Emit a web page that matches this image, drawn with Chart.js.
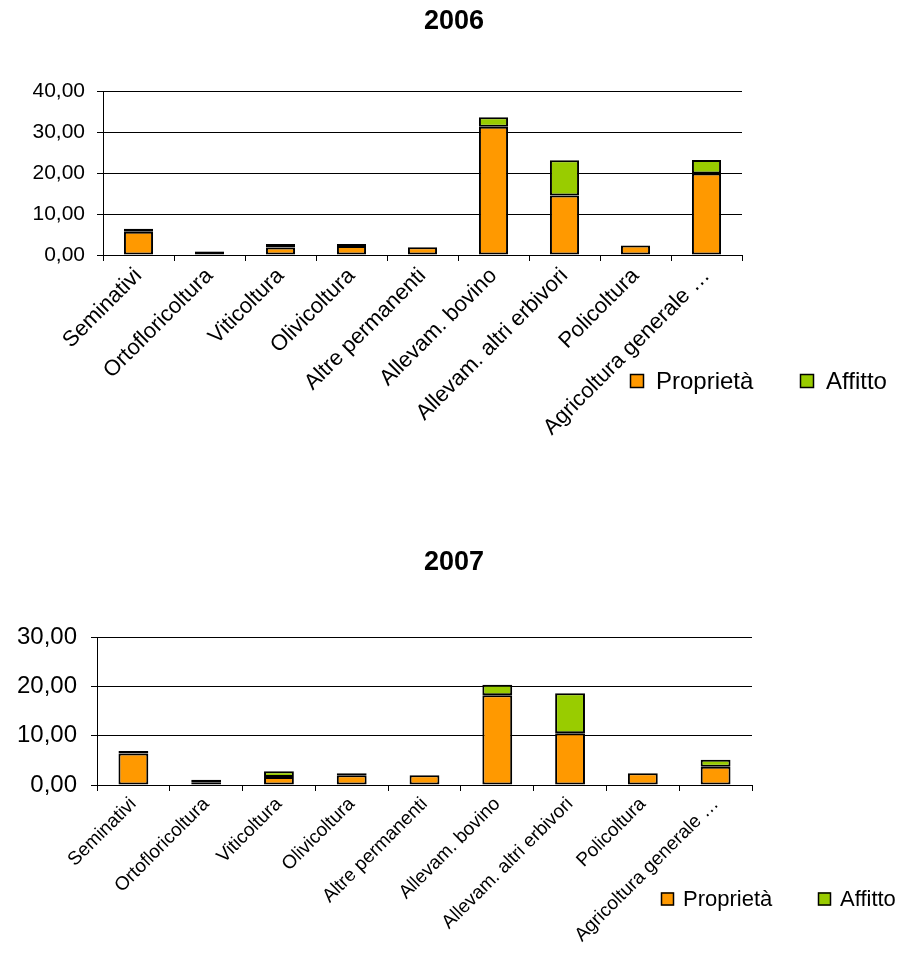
<!DOCTYPE html>
<html>
<head>
<meta charset="utf-8">
<script src="https://cdn.jsdelivr.net/npm/chart.js@4.4.0/dist/chart.umd.min.js"></script>
<style>
  html, body { margin: 0; padding: 0; background: #fff; }
  canvas { display: block; }
</style>
</head>
<body>
<canvas id="chart2006" width="900" height="480"></canvas>
<canvas id="chart2007" width="900" height="474"></canvas>
<script>
const categories = ['Seminativi', 'Ortofloricoltura', 'Viticoltura', 'Olivicoltura', 'Altre permanenti',
    'Allevam. bovino', 'Allevam. altri erbivori', 'Policoltura', 'Agricoltura generale …'];
const seriesNames = ['Proprietà', 'Affitto'];
const proprieta2006 = [5.7, 0.8, 1.8, 2.2, 1.9, 31.3, 14.5, 2.3, 19.9];
const affitto2006 = [0.7, 0.1, 0.9, 0.5, 0, 2.3, 8.6, 0, 3.3];
const proprieta2007 = [6.4, 0.55, 1.6, 2.0, 2.0, 18.2, 10.5, 2.4, 3.7];
const affitto2007 = [0.5, 0.5, 1.2, 0.4, 0, 2.1, 8.1, 0, 1.4];
const yTicks2006 = [0, 10, 20, 30, 40];
const yTicks2007 = [0, 10, 20, 30];

const FONT = "'Liberation Sans', Arial, sans-serif";

// title and legend drawn by hand, positions come from plugin options
const decor = {
    id: 'decor',
    afterDraw(chart, args, opts) {
        const ctx = chart.ctx;
        ctx.save();
        ctx.fillStyle = '#000';
        ctx.font = 'bold ' + opts.titleSize + 'px ' + FONT;
        ctx.textAlign = 'center';
        ctx.textBaseline = 'middle';
        ctx.fillText(opts.title, chart.width / 2 + 4, opts.titleY);

        ctx.font = opts.legendSize + 'px ' + FONT;
        ctx.textAlign = 'left';
        chart.data.datasets.forEach(function (ds, i) {
            const x = opts.legendX[i];
            const y = opts.legendY;
            const b = opts.box;
            ctx.fillStyle = ds.backgroundColor;
            ctx.fillRect(x, y - b / 2, b, b);
            ctx.strokeStyle = '#000';
            ctx.lineWidth = 1.5;
            ctx.strokeRect(x + 0.5, y - b / 2 + 0.5, b - 1, b - 1);
            ctx.fillStyle = '#000';
            ctx.fillText(ds.label, x + b + opts.gap, y + 1);
        });
        ctx.restore();
    }
};

function buildChart(id, prop, aff, yTicks, cfg) {
    const ctx = document.getElementById(id).getContext('2d');
    return new Chart(ctx, {
        type: 'bar',
        data: {
            labels: categories,
            datasets: [
                {
                    label: seriesNames[0],
                    data: prop,
                    backgroundColor: '#FF9900',
                    borderColor: '#000',
                    borderWidth: 2,
                    borderSkipped: false,
                    barPercentage: 0.41,
                    categoryPercentage: 1
                },
                {
                    label: seriesNames[1],
                    data: aff,
                    backgroundColor: '#99CC00',
                    borderColor: '#000',
                    borderWidth: 2,
                    borderSkipped: false,
                    barPercentage: 0.41,
                    categoryPercentage: 1
                }
            ]
        },
        options: {
            responsive: false,
            animation: false,
            layout: {
                padding: { top: cfg.top, right: cfg.right, left: 0, bottom: 0 }
            },
            scales: {
                x: {
                    stacked: true,
                    border: { color: '#000', width: 1 },
                    grid: {
                        offset: true,
                        drawOnChartArea: false,
                        drawTicks: true,
                        tickLength: 6,
                        color: '#000'
                    },
                    ticks: {
                        autoSkip: false,
                        minRotation: 45,
                        maxRotation: 45,
                        padding: 2,
                        color: '#000',
                        font: { family: FONT, size: cfg.xFont }
                    },
                    afterFit: function (scale) { scale.height = cfg.xHeight; }
                },
                y: {
                    stacked: true,
                    min: 0,
                    max: yTicks[yTicks.length - 1],
                    afterBuildTicks: function (scale) {
                        scale.ticks = yTicks.map(function (v) { return { value: v }; });
                    },
                    border: { color: '#000', width: 1 },
                    grid: {
                        color: '#000',
                        lineWidth: 1,
                        drawTicks: true,
                        tickLength: 6
                    },
                    ticks: {
                        padding: cfg.yPad,
                        color: '#000',
                        font: { family: FONT, size: cfg.yFont },
                        callback: function (v) { return Number(v).toFixed(2).replace('.', ','); }
                    },
                    afterFit: function (scale) { scale.width = cfg.left; }
                }
            },
            plugins: {
                legend: { display: false },
                title: { display: false },
                tooltip: { enabled: false },
                decor: cfg.decor
            }
        },
        plugins: [decor]
    });
}

buildChart('chart2006', proprieta2006, affitto2006, yTicks2006, {
    top: 91, right: 158, left: 103, xHeight: 225,
    xFont: 22, yFont: 21, yPad: 12,
    decor: {
        title: '2006', titleY: 22, titleSize: 27,
        legendX: [630, 800], legendY: 381, box: 14, gap: 12, legendSize: 24
    }
});

buildChart('chart2007', proprieta2007, affitto2007, yTicks2007, {
    top: 157, right: 148, left: 97, xHeight: 169,
    xFont: 19, yFont: 24, yPad: 14,
    decor: {
        title: '2007', titleY: 83, titleSize: 27,
        legendX: [661, 818], legendY: 419, box: 13, gap: 9, legendSize: 22
    }
});
</script>
</body>
</html>
